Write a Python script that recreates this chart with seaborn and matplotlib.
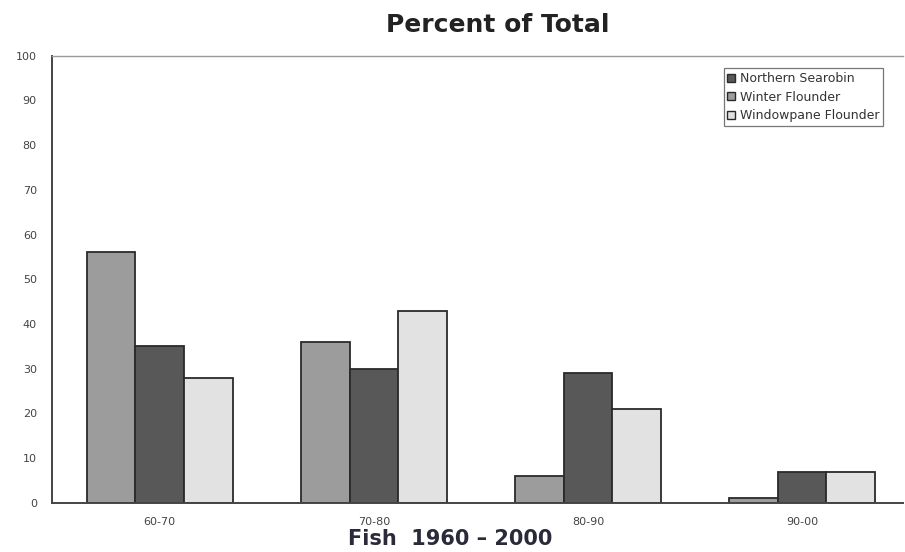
import matplotlib
matplotlib.use("Agg")
import matplotlib.pyplot as plt
import seaborn as sns
import pandas as pd
from matplotlib.patches import Patch

periods = ["60-70", "70-80", "80-90", "90-00"]
winter_flounder = [56, 36, 6, 1]
northern_searobin = [35, 30, 29, 7]
windowpane_flounder = [28, 43, 21, 7]

species_order = ["Winter Flounder", "Northern Searobin", "Windowpane Flounder"]
legend_order = ["Northern Searobin", "Winter Flounder", "Windowpane Flounder"]
colors = {"Winter Flounder": "#9c9c9c",
          "Northern Searobin": "#585858",
          "Windowpane Flounder": "#e2e2e2"}

rows = []
for name, vals in zip(species_order, [winter_flounder, northern_searobin, windowpane_flounder]):
    for p, v in zip(periods, vals):
        rows.append({"period": p, "species": name, "percent": v})
df = pd.DataFrame(rows)

sns.set_style("white")
fig = plt.figure(figsize=(9.05, 5.52), dpi=100)
ax = fig.add_axes([0.0575, 0.089, 0.94, 0.81])

sns.barplot(data=df, x="period", y="percent", hue="species",
            order=periods, hue_order=species_order, palette=colors,
            width=0.68, gap=0, edgecolor="#2a2a2a", linewidth=1.3,
            saturation=1, ax=ax, legend=False)

ax.set_xlim(-0.503, 3.47)
ax.set_ylim(0, 100)
ax.set_yticks(range(0, 101, 10))
ax.tick_params(axis="y", direction="out", length=5, width=1, colors="#444444",
               labelsize=8, labelcolor="#444444", pad=6)
ax.tick_params(axis="x", length=0, labelsize=8, labelcolor="#444444", pad=10)
for lab in ax.get_xticklabels() + ax.get_yticklabels():
    lab.set_fontfamily("DejaVu Sans")

for side in ["left", "bottom"]:
    ax.spines[side].set_color("#444444")
    ax.spines[side].set_linewidth(1.4)
ax.spines["top"].set_color("#9a9a9a")
ax.spines["top"].set_linewidth(1.0)
ax.spines["right"].set_visible(False)

ax.set_ylabel("")
ax.set_xlabel("Fish  1960 \u2013 2000", fontsize=15, fontweight="bold",
              color="#2a2a3a", labelpad=2)
ax.xaxis.set_label_coords(0.468, -0.058)
fig.text(0.55, 0.955, "Percent of Total", ha="center", va="center",
         fontsize=18, fontweight="bold", color="#222222")

handles = [Patch(facecolor=colors[n], edgecolor="#2a2a2a", linewidth=1.0)
           for n in legend_order]
leg = ax.legend(handles, legend_order, loc="upper right",
                bbox_to_anchor=(0.977, 0.972), fontsize=9, frameon=True,
                fancybox=False, edgecolor="#555555", handlelength=0.6,
                handleheight=0.6, handletextpad=0.4, labelspacing=0.45,
                borderpad=0.3, borderaxespad=0)
for t in leg.get_texts():
    t.set_color("#333333")
leg.get_frame().set_linewidth(0.9)

fig.savefig("out.png", dpi=100)
